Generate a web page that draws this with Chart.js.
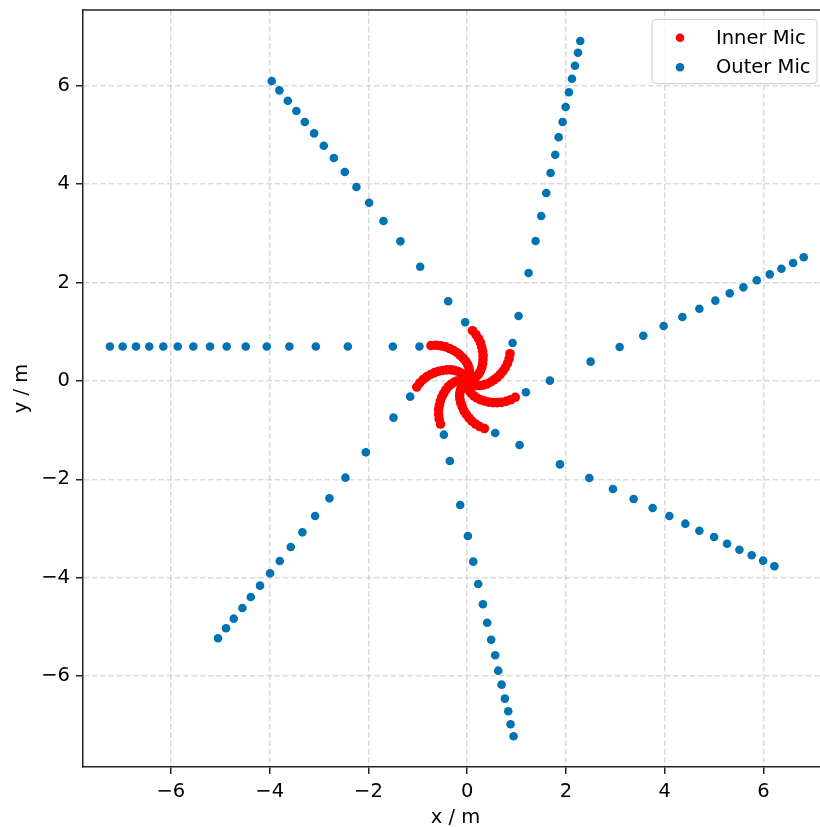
<!DOCTYPE html>
<html>
<head>
<meta charset="utf-8">
<script src="https://cdn.jsdelivr.net/npm/chart.js@4/dist/chart.umd.min.js"></script>
<style>
  html, body { margin: 0; padding: 0; background: #fff; overflow: hidden; }
  #wrap { width: 833px; height: 827px; }
</style>
</head>
<body>
<div id="wrap"><canvas id="c" width="833" height="827"></canvas></div>
<script>
// ---- data ----
const seriesLabels = ['Inner Mic', 'Outer Mic'];
const seriesColors = ['#ff0000', '#0173b2'];

const innerMic = [
  [0.107,1.022],[0.177,0.944],[0.229,0.860],[0.270,0.774],[0.294,0.690],[0.313,0.604],[0.322,0.518],[0.320,0.435],[0.312,0.351],[0.294,0.271],[0.267,0.202],[0.231,0.140],[0.189,0.092],[0.145,0.054],[0.097,0.025],
  [0.866,0.554],[0.848,0.451],[0.815,0.358],[0.773,0.272],[0.723,0.200],[0.667,0.132],[0.606,0.071],[0.540,0.022],[0.469,-0.025],[0.395,-0.061],[0.325,-0.083],[0.254,-0.093],[0.190,-0.090],[0.133,-0.080],[0.080,-0.060],
  [0.973,-0.331],[0.881,-0.381],[0.788,-0.414],[0.695,-0.435],[0.608,-0.440],[0.519,-0.439],[0.434,-0.429],[0.354,-0.408],[0.274,-0.382],[0.199,-0.347],[0.138,-0.305],[0.086,-0.256],[0.048,-0.205],[0.021,-0.154],[0.003,-0.100],
  [0.348,-0.967],[0.252,-0.926],[0.168,-0.874],[0.094,-0.815],[0.035,-0.749],[-0.019,-0.680],[-0.065,-0.607],[-0.098,-0.531],[-0.128,-0.452],[-0.147,-0.372],[-0.153,-0.298],[-0.147,-0.227],[-0.130,-0.165],[-0.107,-0.112],[-0.076,-0.065],
  [-0.540,-0.875],[-0.568,-0.774],[-0.579,-0.676],[-0.579,-0.581],[-0.564,-0.494],[-0.544,-0.408],[-0.515,-0.327],[-0.477,-0.254],[-0.434,-0.181],[-0.383,-0.116],[-0.328,-0.066],[-0.269,-0.026],[-0.210,-0.001],[-0.154,0.014],[-0.098,0.019],
  [-1.021,-0.123],[-0.959,-0.038],[-0.889,0.031],[-0.815,0.090],[-0.738,0.133],[-0.658,0.170],[-0.577,0.199],[-0.496,0.214],[-0.412,0.226],[-0.330,0.227],[-0.257,0.215],[-0.188,0.194],[-0.132,0.164],[-0.085,0.129],[-0.046,0.089],
  [-0.733,0.721],[-0.629,0.726],[-0.531,0.714],[-0.438,0.693],[-0.357,0.660],[-0.278,0.621],[-0.205,0.575],[-0.142,0.521],[-0.081,0.463],[-0.029,0.399],[0.008,0.335],[0.034,0.268],[0.046,0.205],[0.048,0.147],[0.040,0.092]
];

const outerMic = [
  // left arm
  [-7.234,0.70],[-6.977,0.70],[-6.707,0.70],[-6.438,0.70],[-6.154,0.70],[-5.862,0.70],[-5.546,0.70],[-5.208,0.70],[-4.870,0.70],[-4.485,0.70],[-4.059,0.70],[-3.601,0.70],[-3.066,0.70],[-2.417,0.70],[-1.506,0.70],[-0.967,0.70],
  // upper-left arm
  [-3.958,6.098],[-3.803,5.908],[-3.633,5.697],[-3.459,5.488],[-3.289,5.264],[-3.100,5.034],[-2.904,4.783],[-2.701,4.533],[-2.478,4.248],[-2.243,3.943],[-1.986,3.624],[-1.696,3.252],[-1.352,2.839],[-0.952,2.323],[-0.385,1.620],[-0.041,1.193],
  // upper-right arm
  [2.290,6.911],[2.243,6.673],[2.182,6.409],[2.121,6.145],[2.060,5.868],[1.993,5.569],[1.932,5.264],[1.851,4.953],[1.783,4.600],[1.689,4.228],[1.601,3.821],[1.499,3.354],[1.385,2.846],[1.243,2.195],[1.040,1.321],[0.919,0.772],
  // right arm
  [6.815,2.514],[6.600,2.398],[6.363,2.283],[6.126,2.168],[5.863,2.047],[5.593,1.904],[5.316,1.782],[5.025,1.633],[4.701,1.470],[4.357,1.301],[3.978,1.118],[3.566,0.921],[3.087,0.691],[2.499,0.393],[1.675,0.007],[1.189,-0.230],
  // lower-right arm
  [6.221,-3.767],[5.992,-3.652],[5.761,-3.543],[5.512,-3.429],[5.262,-3.307],[4.999,-3.171],[4.701,-3.043],[4.417,-2.900],[4.093,-2.744],[3.755,-2.581],[3.370,-2.398],[2.952,-2.195],[2.472,-1.972],[1.878,-1.694],[1.060,-1.301],[0.567,-1.057],
  // lower arm
  [0.939,-7.222],[0.878,-6.978],[0.831,-6.713],[0.763,-6.457],[0.696,-6.172],[0.628,-5.888],[0.567,-5.575],[0.486,-5.258],[0.405,-4.913],[0.318,-4.539],[0.223,-4.126],[0.122,-3.672],[0.014,-3.150],[-0.142,-2.520],[-0.351,-1.626],[-0.472,-1.091],
  // lower-left arm
  [-5.046,-5.230],[-4.884,-5.027],[-4.728,-4.831],[-4.553,-4.614],[-4.383,-4.390],[-4.195,-4.160],[-3.992,-3.909],[-3.796,-3.659],[-3.573,-3.374],[-3.337,-3.076],[-3.080,-2.744],[-2.790,-2.385],[-2.466,-1.965],[-2.053,-1.450],[-1.493,-0.745],[-1.155,-0.318]
];

const xTicks = [-6, -4, -2, 0, 2, 4, 6];
const yTicks = [-6, -4, -2, 0, 2, 4, 6];
const xTitle = 'x / m';
const yTitle = 'y / m';

// ---- chart ----
const FONT = 'DejaVu Sans';
const FS = 19.5;
const toPts = arr => arr.map(p => ({x: p[0], y: p[1]}));
const fmt = v => String(v).replace('-', '\u2212');

const frameAndLegend = {
  id: 'frameAndLegend',
  afterDraw(chart) {
    const ctx = chart.ctx, a = chart.chartArea;
    ctx.save();
    // top spine
    ctx.strokeStyle = '#222';
    ctx.lineWidth = 1.5;
    ctx.beginPath();
    ctx.moveTo(a.left - 0.75, a.top);
    ctx.lineTo(a.right, a.top);
    ctx.stroke();
    // legend box
    const bx = 652, by = 19.5, bw = 165, bh = 64, r = 4;
    ctx.beginPath();
    ctx.moveTo(bx + r, by);
    ctx.lineTo(bx + bw - r, by);
    ctx.arcTo(bx + bw, by, bx + bw, by + r, r);
    ctx.lineTo(bx + bw, by + bh - r);
    ctx.arcTo(bx + bw, by + bh, bx + bw - r, by + bh, r);
    ctx.lineTo(bx + r, by + bh);
    ctx.arcTo(bx, by + bh, bx, by + bh - r, r);
    ctx.lineTo(bx, by + r);
    ctx.arcTo(bx, by, bx + r, by, r);
    ctx.closePath();
    ctx.fillStyle = 'rgba(255,255,255,0.8)';
    ctx.fill();
    ctx.strokeStyle = '#cccccc';
    ctx.lineWidth = 1;
    ctx.stroke();
    ctx.font = FS + 'px "' + FONT + '"';
    ctx.textBaseline = 'middle';
    ctx.textAlign = 'left';
    chart.data.datasets.forEach((ds, i) => {
      const cy = 37.7 + i * 29.6;
      ctx.fillStyle = ds.backgroundColor;
      ctx.beginPath();
      ctx.arc(680, cy, 4.3, 0, Math.PI * 2);
      ctx.fill();
      ctx.fillStyle = '#000';
      ctx.fillText(ds.label, 716, cy + 1);
    });
    ctx.restore();
  }
};

const axisCommon = {
  type: 'linear',
  grid: {
    color: 'rgba(190,190,190,0.55)',
    lineWidth: 1.5,
    drawTicks: true,
    tickLength: 7,
    tickColor: '#222',
    tickWidth: 1.5,
    tickBorderDash: []
  },
  border: { display: true, color: '#222', width: 1.5, dash: [5.8, 2.5] },
  ticks: {
    color: '#000',
    font: { family: FONT, size: FS },
    padding: 6,
    autoSkip: false,
    maxRotation: 0,
    callback: v => fmt(v)
  }
};

new Chart(document.getElementById('c'), {
  type: 'scatter',
  data: {
    datasets: [
      {
        label: seriesLabels[0],
        data: toPts(innerMic),
        backgroundColor: seriesColors[0],
        borderWidth: 0,
        pointRadius: 4.8,
        pointHoverRadius: 4.8,
        order: 2
      },
      {
        label: seriesLabels[1],
        data: toPts(outerMic),
        backgroundColor: seriesColors[1],
        borderWidth: 0,
        pointRadius: 4.3,
        pointHoverRadius: 4.3,
        order: 1
      }
    ]
  },
  options: {
    responsive: false,
    animation: false,
    devicePixelRatio: 1,
    layout: { padding: { top: 10, left: 0, right: 0, bottom: 0 } },
    plugins: {
      legend: { display: false },
      tooltip: { enabled: false }
    },
    scales: {
      x: Object.assign({}, axisCommon, {
        position: 'bottom',
        min: -7.78,
        max: 7.31,
        afterBuildTicks: s => { s.ticks = xTicks.map(v => ({value: v})); },
        afterFit: s => { s.height = 60; s.paddingLeft = 0; s.paddingRight = 0; },
        title: {
          display: true, text: xTitle, color: '#000',
          font: { family: FONT, size: FS }, padding: { top: 0, bottom: -3 }
        }
      }),
      y: Object.assign({}, axisCommon, {
        position: 'left',
        min: -7.846,
        max: 7.541,
        afterBuildTicks: s => { s.ticks = yTicks.map(v => ({value: v})); },
        afterFit: s => { s.width = 83; s.paddingTop = 0; s.paddingBottom = 0; },
        title: {
          display: true, text: yTitle, color: '#000',
          font: { family: FONT, size: FS }, padding: { top: 10, bottom: 0 }
        }
      })
    }
  },
  plugins: [frameAndLegend]
});
</script>
</body>
</html>
